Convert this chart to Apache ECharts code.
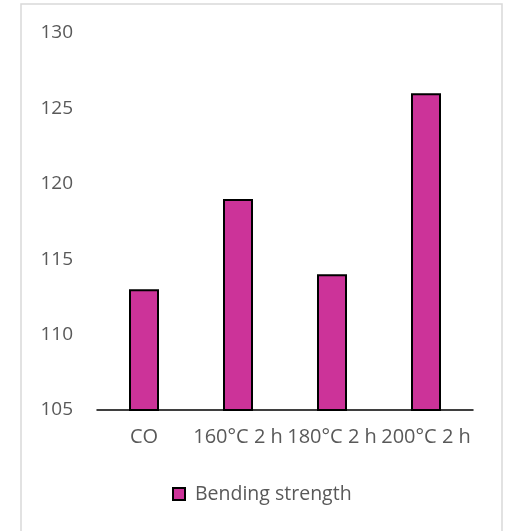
<!DOCTYPE html>
<html>
<head>
<meta charset="utf-8">
<script src="https://cdn.jsdelivr.net/npm/echarts@6/dist/echarts.min.js"></script>
<style>
  html, body { margin: 0; padding: 0; background: #fff; }
  #chart { width: 506px; height: 531px; }
</style>
</head>
<body>
<div id="chart"></div>
<script>
// Bending strength per treatment
const categories = ['CO', '160°C 2 h', '180°C 2 h', '200°C 2 h'];
const bendingStrength = [113, 119, 114, 126];
const seriesName = 'Bending strength';

const FONT = 'Open Sans';
const TEXT = '#595959';

const chart = echarts.init(document.getElementById('chart'));
chart.setOption({
  animation: false,
  backgroundColor: '#fff',
  graphic: [{
    type: 'rect',
    shape: { x: 21, y: 4, width: 481, height: 540 },
    style: { fill: 'none', stroke: '#d9d9d9', lineWidth: 1.5 },
    silent: true
  }],
  grid: { left: 97, right: 33, top: 33, bottom: 121 },
  legend: {
    data: [seriesName],
    bottom: 27,
    left: 172,
    padding: 0,
    itemWidth: 12,
    itemHeight: 12,
    icon: 'rect',
    textStyle: { fontFamily: FONT, fontSize: 19.5, color: TEXT, padding: [0, 0, 0, 5] },
    itemStyle: { borderColor: '#000', borderWidth: 2 }
  },
  xAxis: {
    type: 'category',
    data: categories,
    axisLine: { lineStyle: { color: '#000', width: 1.5 } },
    axisTick: { show: false },
    axisLabel: { fontFamily: FONT, fontSize: 20, color: TEXT, margin: 17, interval: 0 }
  },
  yAxis: {
    type: 'value',
    min: 105,
    max: 130,
    interval: 5,
    axisLine: { show: false },
    axisTick: { show: false },
    splitLine: { show: false },
    axisLabel: { fontFamily: FONT, fontSize: 19, color: TEXT, margin: 24 }
  },
  series: [{
    name: seriesName,
    type: 'bar',
    data: bendingStrength,
    barWidth: 30,
    itemStyle: { color: '#CC3399', borderColor: '#000', borderWidth: 2 }
  }]
});
</script>
</body>
</html>
